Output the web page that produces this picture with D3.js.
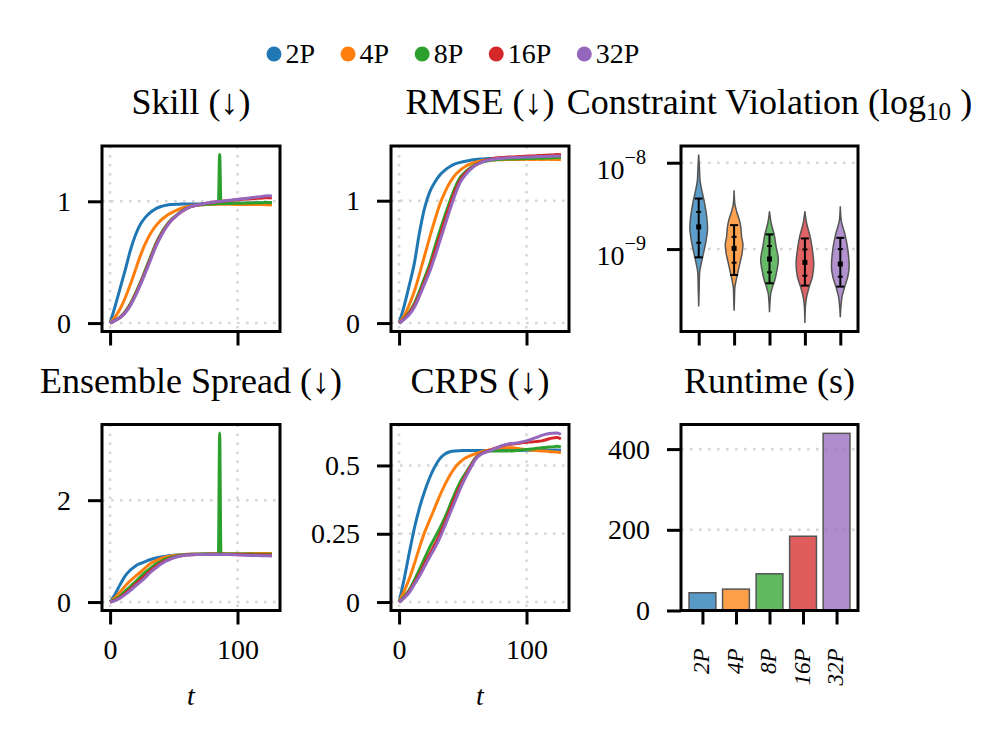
<!DOCTYPE html>
<html><head><meta charset="utf-8">
<script src="https://cdn.jsdelivr.net/npm/d3@7"></script>
<style>body{margin:0;background:#fff}</style>
</head><body><svg id="c" width="998" height="743"></svg>
<script>
// ---------------- DATA ----------------
const categories = ["2P","4P","8P","16P","32P"];
const colors = ["#1f77b4","#ff7f0e","#2ca02c","#d62728","#9467bd"];
const timeSteps = [0,4,8,12,16,20,24,28,32,36,40,44,48,52,56,60,64,68,72,76,80,84,85,86,87,88,92,96,100,104,108,112,116,120,124,127];

const skillValues = [
 [0,.14,.29,.44,.60,.725,.815,.872,.912,.94,.957,.967,.973,.976,.977,.978,.978,.978,.979,.98,.98,.981,.981,.981,.981,.981,.982,.983,.984,.985,.985,.986,.987,.987,.988,.986],
 [0,.05,.12,.21,.32,.44,.56,.66,.74,.80,.845,.88,.905,.925,.943,.956,.964,.969,.972,.974,.975,.975,.975,.975,.975,.975,.975,.975,.974,.974,.974,.973,.973,.973,.972,.970],
 [0,.025,.05,.095,.16,.245,.34,.445,.55,.655,.735,.80,.85,.885,.918,.943,.958,.967,.972,.975,.978,.98,.98,1.385,.98,.981,.982,.983,.984,.985,.986,.987,.988,.989,.99,.988],
 [0,.022,.047,.09,.152,.235,.33,.432,.537,.642,.725,.792,.845,.882,.915,.94,.958,.968,.977,.985,.991,.996,.997,.998,.999,1.0,1.004,1.008,1.012,1.016,1.019,1.022,1.025,1.028,1.03,1.026],
 [0,.02,.045,.085,.145,.225,.32,.42,.525,.63,.715,.785,.84,.88,.913,.94,.958,.968,.978,.986,.992,.997,.998,.999,1.0,1.001,1.006,1.011,1.016,1.021,1.026,1.031,1.036,1.041,1.046,1.043]
];
const rmseValues = [
 [0,.14,.31,.49,.74,.94,1.07,1.15,1.21,1.25,1.28,1.30,1.313,1.322,1.33,1.336,1.34,1.343,1.345,1.347,1.348,1.35,1.35,1.35,1.351,1.351,1.352,1.353,1.355,1.354,1.356,1.357,1.358,1.36,1.359,1.356],
 [0,.06,.15,.26,.40,.55,.70,.84,.97,1.07,1.15,1.21,1.25,1.28,1.30,1.315,1.325,1.33,1.332,1.334,1.335,1.336,1.336,1.336,1.336,1.336,1.337,1.337,1.338,1.337,1.338,1.337,1.338,1.337,1.336,1.334],
 [0,.04,.09,.16,.26,.37,.48,.62,.755,.88,1.0,1.11,1.19,1.235,1.27,1.295,1.312,1.322,1.33,1.335,1.338,1.34,1.34,1.34,1.341,1.341,1.342,1.343,1.344,1.345,1.346,1.347,1.348,1.35,1.352,1.35],
 [0,.035,.08,.145,.235,.34,.45,.58,.71,.84,.965,1.08,1.17,1.225,1.262,1.292,1.313,1.328,1.34,1.348,1.352,1.355,1.356,1.356,1.357,1.357,1.359,1.362,1.364,1.366,1.368,1.37,1.372,1.374,1.378,1.375],
 [0,.03,.07,.13,.22,.32,.42,.54,.67,.80,.93,1.05,1.15,1.21,1.255,1.29,1.31,1.325,1.335,1.342,1.346,1.349,1.35,1.35,1.351,1.351,1.353,1.355,1.357,1.358,1.36,1.361,1.362,1.364,1.366,1.362]
];
const spreadValues = [
 [0,.16,.35,.52,.63,.71,.76,.80,.835,.865,.885,.90,.912,.922,.93,.935,.938,.94,.942,.943,.944,.945,.945,.945,.945,.945,.944,.943,.942,.941,.94,.938,.937,.935,.934,.928],
 [0,.09,.20,.32,.42,.51,.59,.68,.76,.81,.855,.885,.905,.92,.93,.937,.94,.942,.944,.945,.946,.947,.947,.947,.947,.947,.948,.949,.95,.95,.951,.952,.953,.954,.955,.953],
 [0,.05,.12,.22,.31,.40,.50,.59,.67,.745,.80,.845,.88,.905,.922,.932,.938,.94,.941,.942,.943,.944,.944,3.32,.944,.944,.943,.943,.942,.942,.941,.941,.94,.94,.94,.938],
 [0,.04,.09,.17,.26,.35,.44,.53,.62,.70,.77,.82,.86,.89,.91,.925,.93,.933,.935,.936,.937,.937,.937,.937,.937,.937,.935,.933,.932,.93,.928,.926,.925,.924,.922,.92],
 [0,.03,.08,.15,.23,.32,.40,.49,.59,.67,.745,.805,.85,.885,.91,.923,.93,.933,.934,.935,.935,.935,.935,.935,.935,.935,.932,.93,.925,.922,.918,.915,.912,.91,.908,.905]
];
const crpsValues = [
 [0,.085,.18,.27,.345,.405,.455,.495,.525,.542,.55,.553,.554,.555,.555,.555,.555,.555,.555,.555,.555,.555,.555,.555,.555,.555,.555,.555,.556,.556,.556,.556,.556,.556,.557,.556],
 [0,.04,.085,.14,.20,.255,.30,.345,.39,.43,.465,.493,.513,.527,.536,.543,.549,.554,.558,.562,.565,.565,.565,.565,.565,.565,.563,.56,.558,.556,.555,.553,.552,.55,.549,.546],
 [0,.02,.045,.08,.12,.16,.20,.235,.27,.31,.355,.40,.44,.47,.50,.528,.542,.55,.553,.553,.553,.553,.553,.556,.553,.553,.555,.557,.558,.56,.563,.565,.567,.568,.57,.568],
 [0,.017,.04,.07,.103,.14,.175,.21,.248,.292,.338,.383,.425,.462,.495,.525,.542,.55,.557,.564,.571,.576,.577,.577,.578,.578,.58,.583,.585,.586,.588,.59,.595,.60,.602,.597],
 [0,.015,.035,.065,.095,.13,.165,.198,.235,.28,.325,.37,.415,.455,.49,.522,.54,.548,.555,.563,.571,.577,.578,.579,.58,.58,.582,.586,.59,.596,.603,.61,.615,.618,.619,.613]
];
// Constraint violation (log10 values): violin outline profiles [log10 value, relative half-width]
const violinProfiles = [
 [[-7.904,0],[-8.051,.08],[-8.204,.15],[-8.32,.35],[-8.435,.6],[-8.55,.8],[-8.666,.95],[-8.761,1],[-8.858,.9],[-8.973,.7],[-9.089,.45],[-9.185,.25],[-9.28,.1],[-9.473,.05],[-9.666,0]],
 [[-8.32,0],[-8.473,.08],[-8.57,.3],[-8.666,.6],[-8.743,.75],[-8.858,.85],[-8.954,1],[-9.05,.9],[-9.165,.65],[-9.28,.4],[-9.377,.2],[-9.454,.08],[-9.588,.04],[-9.715,0]],
 [[-8.562,0],[-8.704,.2],[-8.819,.5],[-8.973,.75],[-9.127,1],[-9.242,.85],[-9.358,.6],[-9.435,.35],[-9.511,.15],[-9.626,.05],[-9.73,0]],
 [[-8.562,0],[-8.704,.2],[-8.858,.6],[-9.012,.85],[-9.165,1],[-9.319,.85],[-9.435,.5],[-9.55,.2],[-9.666,.06],[-9.857,0]],
 [[-8.504,0],[-8.666,.1],[-8.819,.5],[-8.973,.8],[-9.204,1],[-9.319,.85],[-9.435,.5],[-9.55,.2],[-9.666,.07],[-9.788,0]]
];
const violinMedian = [-8.743,-8.992,-9.115,-9.154,-9.173];
const violinQ1 = [-8.927,-9.158,-9.269,-9.308,-9.32];
const violinQ3 = [-8.57,-8.858,-8.965,-9.004,-9.0];
const violinLow = [-9.096,-9.30,-9.396,-9.423,-9.435];
const violinHigh = [-8.415,-8.723,-8.83,-8.877,-8.87];
const runtimeValues = [44,53,91,184,439];

const timeTicks = [0,100];
const skillTicks = [0,1];
const rmseTicks = [0,1];
const spreadTicks = [0,2];
const crpsTicks = [0,0.25,0.5];
const violationTicks = [1e-9,1e-8];
const runtimeTicks = [0,200,400];

// ---------------- DRAWING ----------------
const FONT = "'Liberation Serif','DejaVu Serif',serif";
const TITLE = 36, TICK = 28;
const svg = d3.select("#c").style("font-family", FONT);
const cols = [[102,280],[391,569],[681,858]];
const rows = [[146,331.5],[424.5,610.5]];

function pad(lo, hi){ const r = hi-lo; return [lo-0.05*r, hi+0.05*r]; }

function styleAxis(g){
  g.select(".domain").remove();
  g.selectAll(".tick line").attr("stroke","#000").attr("stroke-width",3);
  g.selectAll(".tick text").attr("fill","#000").style("font-size",TICK+"px").style("font-family",FONT);
}
function grid(g, x, y, xv, yv, box){
  const gg = g.append("g");
  const st = s => s.attr("stroke","#d6d6d6").attr("stroke-width",2.6).attr("stroke-dasharray","2.6,6.4");
  (xv||[]).forEach(v => st(gg.append("line").attr("x1",x(v)).attr("x2",x(v)).attr("y1",box[1][0]).attr("y2",box[1][1])));
  (yv||[]).forEach(v => st(gg.append("line").attr("y1",y(v)).attr("y2",y(v)).attr("x1",box[0][0]).attr("x2",box[0][1])));
}
function spine(g, box){
  g.append("rect").attr("x",box[0][0]).attr("y",box[1][0]).attr("width",box[0][1]-box[0][0])
   .attr("height",box[1][1]-box[1][0]).attr("fill","none").attr("stroke","#000").attr("stroke-width",3);
}
function title(g, box, parts){
  const t = g.append("text").attr("x",(box[0][0]+box[0][1])/2).attr("y",box[1][0]-32)
    .attr("text-anchor","middle").style("font-size",TITLE+"px").style("font-family",FONT);
  parts.forEach(p => {
    const s = t.append("tspan").text(p.t);
    if(p.sub) s.attr("baseline-shift","-22%").style("font-size",(TITLE*0.7)+"px");
  });
}

function linePanel(col,row,values,yTicks,tickFmt,showX,ttl){
  const box=[cols[col],rows[row]];
  const all = values.flat();
  const x = d3.scaleLinear().domain(pad(0,d3.max(timeSteps))).range(box[0]);
  const y = d3.scaleLinear().domain(pad(Math.min(0,d3.min(all)),d3.max(all))).range([box[1][1],box[1][0]]);
  const g = svg.append("g");
  grid(g,x,y,timeTicks,yTicks,box);
  const line = d3.line().x((d,i)=>x(timeSteps[i])).y(d=>y(d)).curve(d3.curveMonotoneX);
  values.forEach((vals,k)=>{
    g.append("path").attr("d",line(vals)).attr("fill","none").attr("stroke",colors[k])
     .attr("stroke-width",3).attr("stroke-linejoin","round");
  });
  const ya = g.append("g").attr("transform",`translate(${box[0][0]},0)`)
    .call(d3.axisLeft(y).tickValues(yTicks).tickSize(14).tickPadding(17).tickFormat(tickFmt));
  styleAxis(ya);
  const xa = g.append("g").attr("transform",`translate(0,${box[1][1]})`)
    .call(d3.axisBottom(x).tickValues(timeTicks).tickSize(14).tickPadding(15).tickFormat(showX? d3.format("d") : ""));
  styleAxis(xa);
  if(showX){
    g.append("text").attr("x",(box[0][0]+box[0][1])/2).attr("y",705).attr("text-anchor","middle")
     .style("font-size",TICK+"px").style("font-style","italic").style("font-family",FONT).text("t");
  }
  spine(g,box);
  title(g,box,ttl);
}

linePanel(0,0,skillValues,skillTicks,d3.format("d"),false,[{t:"Skill (↓)"}]);
linePanel(1,0,rmseValues,rmseTicks,d3.format("d"),false,[{t:"RMSE (↓)"}]);
linePanel(0,1,spreadValues,spreadTicks,d3.format("d"),true,[{t:"Ensemble Spread (↓)"}]);
linePanel(1,1,crpsValues,crpsTicks,d=>d===0?"0":String(d),true,[{t:"CRPS (↓)"}]);

// Constraint violation violins
(function(){
  const box=[cols[2],rows[0]];
  const allLogs = violinProfiles.flat().map(d=>d[0]);
  const lo = d3.min(allLogs), hi = d3.max(allLogs), r = hi-lo;
  const x = d3.scaleLinear().domain([-0.5,categories.length-0.5]).range(box[0]);
  const y = d3.scaleLog().domain([Math.pow(10,lo-0.05*r),Math.pow(10,hi+0.05*r)]).range([box[1][1],box[1][0]]);
  const g = svg.append("g");
  grid(g,x,y,[],violationTicks,box);
  const hw = x(0.25)-x(0);
  violinProfiles.forEach((prof,k)=>{
    const cx = x(k);
    const area = d3.area().y(d=>y(Math.pow(10,d[0]))).x0(d=>cx-d[1]*hw).x1(d=>cx+d[1]*hw).curve(d3.curveMonotoneY);
    g.append("path").attr("d",area(prof)).attr("fill",colors[k]).attr("fill-opacity",0.72)
     .attr("stroke","#555").attr("stroke-width",1.5);
    const Y = v=>y(Math.pow(10,v));
    g.append("line").attr("x1",cx).attr("x2",cx).attr("y1",Y(violinLow[k])).attr("y2",Y(violinHigh[k])).attr("stroke","#000").attr("stroke-width",2);
    [violinLow[k],violinHigh[k]].forEach(v=>g.append("line").attr("x1",cx-4).attr("x2",cx+4).attr("y1",Y(v)).attr("y2",Y(v)).attr("stroke","#000").attr("stroke-width",2));
    [violinQ1[k],violinQ3[k]].forEach(v=>g.append("line").attr("x1",cx-2.5).attr("x2",cx+2.5).attr("y1",Y(v)).attr("y2",Y(v)).attr("stroke","#000").attr("stroke-width",2));
    g.append("rect").attr("x",cx-2.5).attr("y",Y(violinMedian[k])-2.5).attr("width",5).attr("height",5).attr("fill","#000");
  });
  const ya = g.append("g").attr("transform",`translate(${box[0][0]},0)`)
    .call(d3.axisLeft(y).tickValues(violationTicks).tickSize(14).tickPadding(17).tickFormat(""));
  styleAxis(ya);
  ya.selectAll(".tick text").each(function(d){
    const t = d3.select(this); t.text(null).attr("dy","0.55em").attr("x",-35);
    t.append("tspan").text("10");
    t.append("tspan").text("−"+Math.round(-Math.log10(d))).attr("dy","-0.75em").style("font-size",(TICK*0.72)+"px");
  });
  const xa = g.append("g").attr("transform",`translate(0,${box[1][1]})`)
    .call(d3.axisBottom(x).tickValues(d3.range(categories.length)).tickSize(14).tickFormat(""));
  styleAxis(xa);
  spine(g,box);
  title(g,box,[{t:"Constraint Violation ("},{t:"log"},{t:"10",sub:true},{t:" )"}]);
})();

// Runtime bars
(function(){
  const box=[cols[2],rows[1]];
  const x = d3.scaleLinear().domain([-0.4-0.05*4.8, categories.length-1+0.4+0.05*4.8]).range(box[0]);
  const y = d3.scaleLinear().domain([0,d3.max(runtimeValues)*1.05]).range([box[1][1],box[1][0]]);
  const g = svg.append("g");
  grid(g,x,y,[],runtimeTicks.filter(v=>v>0),box);
  const bw = x(0.4)-x(-0.4);
  runtimeValues.forEach((v,k)=>{
    g.append("rect").attr("x",x(k)-bw/2).attr("y",y(v)).attr("width",bw).attr("height",y(0)-y(v))
     .attr("fill",colors[k]).attr("fill-opacity",0.75).attr("stroke","#555").attr("stroke-width",1.5);
  });
  const ya = g.append("g").attr("transform",`translate(${box[0][0]},0)`)
    .call(d3.axisLeft(y).tickValues(runtimeTicks).tickSize(14).tickPadding(17).tickFormat(d3.format("d")));
  styleAxis(ya);
  const xa = g.append("g").attr("transform",`translate(0,${box[1][1]})`)
    .call(d3.axisBottom(x).tickValues(d3.range(categories.length)).tickSize(14).tickFormat(i=>categories[i]));
  styleAxis(xa);
  xa.selectAll(".tick text").attr("transform","rotate(-90)").attr("text-anchor","end")
    .attr("x",-38).attr("y",0).attr("dy","0.28em").style("font-size","23px").style("font-style","italic");
  spine(g,box);
  title(g,box,[{t:"Runtime (s)"}]);
})();

// Legend
(function(){
  const g = svg.append("g");
  let xpos = 266.5;
  categories.forEach((c,k)=>{
    g.append("circle").attr("cx",xpos+7.5).attr("cy",54).attr("r",7.5).attr("fill",colors[k]);
    const t = g.append("text").attr("x",xpos+19).attr("y",63).style("font-size",TICK+"px").style("font-family",FONT).text(c);
    xpos = xpos + 19 + t.node().getComputedTextLength() + 25.5;
  });
})();
</script>
</body></html>
